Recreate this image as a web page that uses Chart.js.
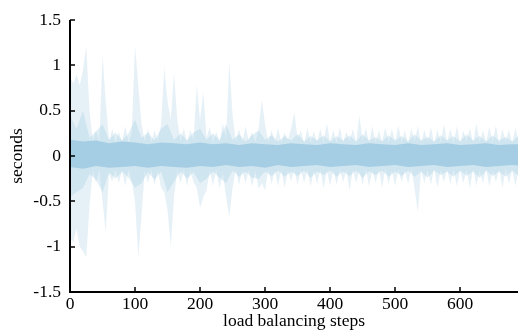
<!DOCTYPE html>
<html>
<head>
<meta charset="utf-8">
<script src="https://cdn.jsdelivr.net/npm/chart.js@4"></script>
<style>
  html, body { margin: 0; padding: 0; background: #fff; }
  #wrap { width: 518px; height: 332px; }
</style>
</head>
<body>
<div id="wrap"><canvas id="loadChart"></canvas></div>
<script>
// outer (faint) envelope, one value every 5 steps: 0, 5, ... 690
const outerSteps = Array.from({length: 139}, (_, i) => i * 5);
const outerHi = [
  0.88, 0.80, 0.90, 0.78, 0.95, 1.22, 0.50, 0.16, 0.28, 0.15,
  1.11, 0.60, 0.17, 0.30, 0.15, 0.27, 0.16, 0.33, 0.15, 0.26,
  1.22, 0.78, 0.35, 0.16, 0.30, 0.15, 0.28, 0.17, 0.34, 0.98,
  0.60, 0.40, 0.92, 0.40, 0.16, 0.31, 0.15, 0.29, 0.17, 0.78,
  0.40, 0.71, 0.20, 0.32, 0.15, 0.27, 0.16, 0.36, 0.18, 1.04,
  0.45, 0.16, 0.30, 0.15, 0.33, 0.16, 0.27, 0.15, 0.30, 0.62,
  0.35, 0.15, 0.29, 0.16, 0.31, 0.15, 0.26, 0.17, 0.30, 0.48,
  0.20, 0.28, 0.14, 0.31, 0.15, 0.27, 0.16, 0.30, 0.15, 0.36,
  0.16, 0.29, 0.14, 0.32, 0.15, 0.27, 0.16, 0.30, 0.15, 0.45,
  0.17, 0.31, 0.15, 0.33, 0.14, 0.28, 0.16, 0.32, 0.15, 0.30,
  0.16, 0.34, 0.15, 0.28, 0.14, 0.31, 0.16, 0.33, 0.15, 0.29,
  0.16, 0.32, 0.14, 0.29, 0.15, 0.35, 0.16, 0.30, 0.14, 0.33,
  0.15, 0.28, 0.16, 0.31, 0.14, 0.36, 0.15, 0.28, 0.16, 0.32,
  0.15, 0.34, 0.14, 0.30, 0.16, 0.29, 0.15, 0.31, 0.16
];
const outerLo = [
  -0.90, -0.95, -0.80, -1.00, -1.05, -1.12, -0.55, -0.16, -0.30, -0.15,
  -0.50, -0.84, -0.20, -0.28, -0.15, -0.30, -0.16, -0.33, -0.15, -0.28,
  -0.50, -1.12, -0.65, -0.16, -0.30, -0.15, -0.32, -0.16, -0.35, -0.40,
  -0.60, -1.00, -0.45, -0.16, -0.30, -0.15, -0.33, -0.16, -0.29, -0.35,
  -0.57, -0.45, -0.38, -0.16, -0.33, -0.15, -0.36, -0.18, -0.45, -0.67,
  -0.35, -0.15, -0.32, -0.16, -0.30, -0.15, -0.34, -0.16, -0.36, -0.30,
  -0.38, -0.15, -0.31, -0.16, -0.33, -0.15, -0.35, -0.16, -0.28, -0.15,
  -0.32, -0.15, -0.30, -0.14, -0.34, -0.16, -0.31, -0.15, -0.36, -0.16,
  -0.33, -0.15, -0.32, -0.14, -0.29, -0.16, -0.38, -0.15, -0.30, -0.16,
  -0.32, -0.14, -0.34, -0.16, -0.30, -0.15, -0.35, -0.14, -0.31, -0.16,
  -0.33, -0.15, -0.29, -0.16, -0.31, -0.14, -0.36, -0.62, -0.16, -0.30,
  -0.15, -0.32, -0.14, -0.35, -0.16, -0.29, -0.15, -0.31, -0.14, -0.34,
  -0.16, -0.30, -0.15, -0.36, -0.14, -0.33, -0.16, -0.30, -0.15, -0.34,
  -0.16, -0.29, -0.15, -0.35, -0.14, -0.31, -0.16, -0.33, -0.15
];

// middle band, every 10 steps: 0 ... 690
const midSteps = Array.from({length: 70}, (_, i) => i * 10);
const midHi = [
  0.45, 0.30, 0.50, 0.20, 0.27, 0.35, 0.18, 0.26, 0.17, 0.25,
  0.40, 0.20, 0.26, 0.17, 0.30, 0.35, 0.18, 0.25, 0.17, 0.26,
  0.30, 0.18, 0.25, 0.17, 0.35, 0.18, 0.24, 0.16, 0.23, 0.28,
  0.18, 0.23, 0.16, 0.22, 0.17, 0.24, 0.16, 0.22, 0.17, 0.23,
  0.16, 0.22, 0.17, 0.23, 0.16, 0.24, 0.17, 0.21, 0.16, 0.23,
  0.17, 0.22, 0.16, 0.24, 0.17, 0.21, 0.16, 0.23, 0.17, 0.22,
  0.16, 0.24, 0.17, 0.22, 0.16, 0.23, 0.17, 0.21, 0.16, 0.22
];
const midLo = [
  -0.45, -0.40, -0.35, -0.20, -0.26, -0.40, -0.18, -0.25, -0.17, -0.24,
  -0.35, -0.30, -0.18, -0.26, -0.17, -0.40, -0.28, -0.17, -0.25, -0.18,
  -0.30, -0.25, -0.17, -0.24, -0.30, -0.16, -0.23, -0.17, -0.24, -0.25,
  -0.17, -0.22, -0.16, -0.23, -0.17, -0.22, -0.16, -0.24, -0.17, -0.21,
  -0.16, -0.23, -0.17, -0.22, -0.16, -0.24, -0.17, -0.21, -0.16, -0.23,
  -0.17, -0.22, -0.16, -0.23, -0.17, -0.24, -0.16, -0.21, -0.17, -0.23,
  -0.16, -0.22, -0.17, -0.24, -0.16, -0.22, -0.17, -0.23, -0.16, -0.22
];

// dense core, every 20 steps: 0 ... 700
const coreSteps = Array.from({length: 36}, (_, i) => i * 20);
const coreHi = [
  0.18, 0.16, 0.17, 0.14, 0.16, 0.15, 0.13, 0.15, 0.14, 0.13,
  0.15, 0.13, 0.14, 0.12, 0.14, 0.13, 0.12, 0.14, 0.13, 0.12,
  0.14, 0.13, 0.12, 0.14, 0.13, 0.12, 0.14, 0.12, 0.13, 0.14,
  0.12, 0.13, 0.14, 0.12, 0.13, 0.13
];
const coreLo = [
  -0.12, -0.14, -0.11, -0.13, -0.12, -0.11, -0.13, -0.11, -0.12, -0.13,
  -0.11, -0.12, -0.10, -0.12, -0.11, -0.13, -0.10, -0.12, -0.11, -0.10,
  -0.12, -0.11, -0.10, -0.12, -0.11, -0.10, -0.12, -0.11, -0.10, -0.12,
  -0.11, -0.10, -0.12, -0.11, -0.10, -0.11
];

const xTicks = [0, 100, 200, 300, 400, 500, 600];
const yTicks = [-1.5, -1, -0.5, 0, 0.5, 1, 1.5];

const BLUE = '166, 206, 227';
const pts = (xs, ys) => xs.map((x, i) => ({x: x, y: ys[i]}));

function band(xs, hi, lo, color) {
    return [
        { data: pts(xs, hi), fill: '+1', backgroundColor: color, borderWidth: 0, pointRadius: 0, tension: 0 },
        { data: pts(xs, lo), fill: false, backgroundColor: color, borderWidth: 0, pointRadius: 0, tension: 0 }
    ];
}

// axes with inward ticks, drawn over the data
const innerAxes = {
    id: 'innerAxes',
    afterDatasetsDraw(chart) {
        const {ctx, chartArea: a, scales: {x, y}} = chart;
        ctx.save();
        ctx.strokeStyle = '#000';
        ctx.lineWidth = 2;
        ctx.beginPath();
        ctx.moveTo(a.left, a.top);
        ctx.lineTo(a.left, a.bottom);
        ctx.lineTo(a.right, a.bottom);
        ctx.stroke();
        ctx.lineWidth = 1.5;
        ctx.beginPath();
        xTicks.forEach(v => {
            const px = Math.round(x.getPixelForValue(v));
            ctx.moveTo(px, a.bottom);
            ctx.lineTo(px, a.bottom - 5);
        });
        yTicks.forEach(v => {
            const py = Math.round(y.getPixelForValue(v));
            ctx.moveTo(a.left, py);
            ctx.lineTo(a.left + 5, py);
        });
        ctx.stroke();
        ctx.restore();
    }
};

const font = { family: "'Liberation Serif', 'DejaVu Serif', serif", size: 17.5 };

new Chart(document.getElementById('loadChart'), {
    type: 'line',
    data: {
        datasets: [
            ...band(outerSteps, outerHi, outerLo, `rgba(${BLUE}, 0.28)`),
            ...band(midSteps, midHi, midLo, `rgba(${BLUE}, 0.35)`),
            ...band(coreSteps, coreHi, coreLo, `rgb(${BLUE})`)
        ]
    },
    options: {
        responsive: true,
        maintainAspectRatio: false,
        animation: false,
        layout: { padding: { top: 20, right: 0, left: 0, bottom: 0 } },
        plugins: { legend: { display: false }, tooltip: { enabled: false } },
        scales: {
            x: {
                type: 'linear',
                min: 0,
                max: 689,
                grid: { display: false, drawTicks: false },
                border: { display: false },
                ticks: {
                    stepSize: 100,
                    includeBounds: false,
                    color: '#000',
                    font: font,
                    padding: 2,
                    maxRotation: 0
                },
                title: { display: true, text: 'load balancing steps', color: '#000', font: font, padding: { top: 0, bottom: 0 } },
                afterFit: s => { s.height = 40; }
            },
            y: {
                min: -1.5,
                max: 1.5,
                grid: { display: false, drawTicks: false },
                border: { display: false },
                ticks: { stepSize: 0.5, color: '#000', font: font, padding: 9, callback: v => String(v) },
                title: { display: true, text: 'seconds', color: '#000', font: font, padding: { top: 7, bottom: 0 } },
                afterFit: s => { s.width = 70; }
            }
        }
    },
    plugins: [innerAxes]
});
</script>
</body>
</html>
